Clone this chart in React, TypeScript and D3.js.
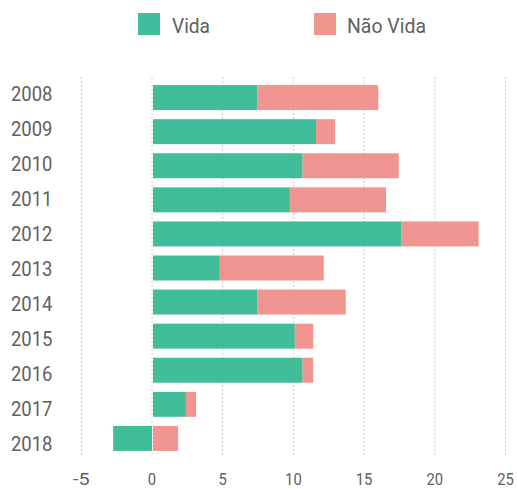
import React from "react";
import * as d3 from "d3";

const years = ["2008","2009","2010","2011","2012","2013","2014","2015","2016","2017","2018"];
const vida = [7.45, 11.6, 10.65, 9.75, 17.65, 4.8, 7.45, 10.1, 10.65, 2.4, -2.75];
const naoVida = [8.55, 1.35, 6.8, 6.8, 5.45, 7.35, 6.25, 1.3, 0.75, 0.72, 1.85];
const xTicks = [-5, 0, 5, 10, 15, 20, 25];
const seriesNames = ["Vida", "Não Vida"];
const colors = ["#2DB690", "#EF8A83"];

const W = 517, H = 489;

export default function App() {
  const x = d3.scaleLinear().domain([-5, 25]).range([81.3, 505.5]);
  const y = d3.scaleBand<string>().domain(years).range([76, 460]).paddingInner(0.267).paddingOuter(0.267);
  const yLab = d3.scalePoint<string>().domain(years).range([93.9, 443]);
  const rows = years.map((yr, i) => ({ year: yr, Vida: vida[i], "Não Vida": naoVida[i] }));
  const stack = d3.stack<any>().keys(seriesNames).offset(d3.stackOffsetDiverging);
  const series = stack(rows);
  const textColor = "#606060";
  const font = "Roboto, 'DejaVu Sans', sans-serif";

  return (
    <svg width={W} height={H} style={{ position: "absolute", left: 0, top: 0, background: "#fff" }}>
      {xTicks.map(t => (
        <line key={"g" + t} x1={x(t)} x2={x(t)} y1={77} y2={457} stroke="#c9c9c9" strokeWidth={1} strokeDasharray="2 2" />
      ))}
      {series.map((s, si) => (
        <g key={s.key} fill={colors[si]} opacity={0.9}>
          {s.map((d, i) => {
            const x0 = x(Math.min(d[0], d[1]));
            const x1 = x(Math.max(d[0], d[1]));
            const adj = d[0] === 0 && d[1] > 0 ? 1 : 0;
            return <rect key={i} x={x0 + adj} y={y(years[i])} width={Math.max(0, x1 - x0 - adj)} height={y.bandwidth()} />;
          })}
        </g>
      ))}
      {years.map(yr => (
        <text key={yr} x={52.5} y={yLab(yr)} dy="0.36em" textAnchor="end" fontFamily={font} fontSize={21}
          fill={textColor} textLength={41.5} lengthAdjust="spacingAndGlyphs">{yr}</text>
      ))}
      {xTicks.map(t => (
        <text key={"t" + t} x={x(t)} y={485} textAnchor="middle" fontFamily={font} fontSize={17} fill={textColor}
          textLength={String(t).length * 8.3} lengthAdjust="spacingAndGlyphs">{t}</text>
      ))}
      <rect x={138} y={13} width={22} height={22} fill={colors[0]} opacity={0.9} />
      <text x={172} y={32.5} fontFamily={font} fontSize={21} fill={textColor} textLength={38} lengthAdjust="spacingAndGlyphs">{seriesNames[0]}</text>
      <rect x={314} y={13} width={22} height={22} fill={colors[1]} opacity={0.9} />
      <text x={347} y={32.5} fontFamily={font} fontSize={21} fill={textColor} textLength={79} lengthAdjust="spacingAndGlyphs">{seriesNames[1]}</text>
    </svg>
  );
}
